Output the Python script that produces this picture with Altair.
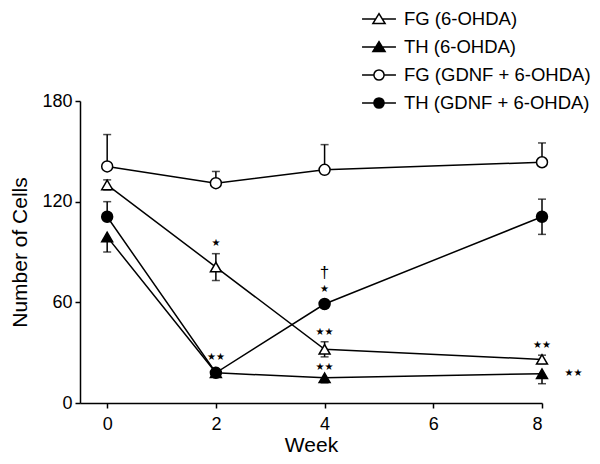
import altair as alt
import pandas as pd

weeks = [0, 2, 4, 8]
series_names = ["FG (6-OHDA)", "TH (6-OHDA)", "FG (GDNF + 6-OHDA)", "TH (GDNF + 6-OHDA)"]

fg_6ohda = [130, 81, 32, 26]
fg_6ohda_up = [3, 8, 4.5, 2.5]
fg_6ohda_dn = [3, 8, 4.5, 2.5]

th_6ohda = [99, 18, 15, 17.5]
th_6ohda_up = [0, 0, 0, 0]
th_6ohda_dn = [9, 0, 3, 6]

fg_gdnf = [141, 131, 139, 143.5]
fg_gdnf_up = [19, 7, 15, 11.5]
fg_gdnf_dn = [0, 0, 0, 0]

th_gdnf = [111, 18, 59, 111]
th_gdnf_up = [9, 0, 0, 10.5]
th_gdnf_dn = [0, 0, 0, 10.5]

ann_week = [2, 2, 4, 4, 4, 4, 8, 8.58]
ann_value = [95.5, 27.6, 77.3, 67.8, 42.1, 21.3, 34.6, 18]
ann_text = ["★", "★★", "†", "★", "★★", "★★", "★★", "★★"]

means = [fg_6ohda, th_6ohda, fg_gdnf, th_gdnf]
ups = [fg_6ohda_up, th_6ohda_up, fg_gdnf_up, th_gdnf_up]
dns = [fg_6ohda_dn, th_6ohda_dn, fg_gdnf_dn, th_gdnf_dn]

rows = []
for s, m, u, d in zip(series_names, means, ups, dns):
    for w, mv, uv, dv in zip(weeks, m, u, d):
        rows.append({"series": s, "week": w, "value": mv, "up": uv, "dn": dv,
                     "hi": mv + uv, "lo": mv - dv})
df = pd.DataFrame(rows)
ann = pd.DataFrame({"week": ann_week, "value": ann_value, "text": ann_text})

FONT = "Liberation Sans"
xs = alt.Scale(domain=[-0.5, 8], nice=False, zero=False)
ys = alt.Scale(domain=[0, 180], nice=False)
x_enc = alt.X("week:Q", scale=xs, title="Week",
              axis=alt.Axis(values=[0, 2, 4, 6, 8], format="d", labelPadding=7, titlePadding=1))
y_enc = alt.Y("value:Q", scale=ys, title="Number of Cells",
              axis=alt.Axis(values=[0, 60, 120, 180], labelPadding=3, titlePadding=11))

base = alt.Chart(df)

rule_up = base.transform_filter("datum.up > 0").mark_rule(color="black", strokeWidth=1.5).encode(
    x=x_enc, y=y_enc, y2="hi:Q")
rule_dn = base.transform_filter("datum.dn > 0").mark_rule(color="black", strokeWidth=1.5).encode(
    x=x_enc, y=y_enc, y2="lo:Q")
cap_up = base.transform_filter("datum.up > 0").mark_tick(
    orient="horizontal", size=8, thickness=1.5, color="black").encode(x=x_enc, y=alt.Y("hi:Q", scale=ys))
cap_dn = base.transform_filter("datum.dn > 0").mark_tick(
    orient="horizontal", size=8, thickness=1.5, color="black").encode(x=x_enc, y=alt.Y("lo:Q", scale=ys))

lines = base.mark_line(color="black", strokeWidth=1.5).encode(
    x=x_enc, y=y_enc, detail="series:N", order="week:Q")

fill_range = ["white", "black", "white", "black"]
points = base.mark_point(filled=True, size=120, stroke="black", strokeWidth=1.5, opacity=1).encode(
    x=x_enc, y=y_enc,
    shape=alt.Shape("series:N", scale=alt.Scale(domain=series_names,
                    range=["triangle-up", "triangle-up", "circle", "circle"]), legend=None),
    fill=alt.Fill("series:N", scale=alt.Scale(domain=series_names, range=fill_range), legend=None),
)

tri = "M0,-0.32L0.36,0.27L-0.36,0.27Z"
circ = "M-0.3,0A0.3,0.3 0 1,1 0.3,0A0.3,0.3 0 1,1 -0.3,0Z"
legend_paths = [
    "M-1,0H-0.2M0.2,0H1" + tri,
    "M-1,0H1" + tri,
    "M-1,0H-0.3M0.3,0H1" + circ,
    "M-1,0H1" + circ,
]
leg = alt.Legend(title=None, orient="none", legendX=281, legendY=-100, direction="vertical",
                 labelFont=FONT, labelFontSize=18.5, labelColor="black", labelLimit=400,
                 symbolSize=1150, symbolStrokeColor="black", symbolStrokeWidth=1.5,
                 symbolOpacity=1, labelOffset=7, rowPadding=0, padding=0)
legend_layer = base.mark_point(filled=True, opacity=0).encode(
    x=x_enc, y=y_enc,
    shape=alt.Shape("series:N", scale=alt.Scale(domain=series_names, range=legend_paths), legend=leg),
    fill=alt.Fill("series:N", scale=alt.Scale(domain=series_names, range=fill_range), legend=leg),
    stroke=alt.Stroke("series:N", scale=alt.Scale(domain=series_names, range=["black"] * 4), legend=leg),
)

text_star = alt.Chart(ann).transform_filter("datum.text != '†'").mark_text(
    font="DejaVu Sans", fontSize=10, color="black", baseline="middle", align="center").encode(
    x=alt.X("week:Q", scale=xs), y=alt.Y("value:Q", scale=ys), text="text:N")
text_dag = alt.Chart(ann).transform_filter("datum.text == '†'").mark_text(
    font=FONT, fontSize=17, color="black", baseline="middle", align="center").encode(
    x=alt.X("week:Q", scale=xs), y=alt.Y("value:Q", scale=ys), text="text:N")

chart = alt.layer(rule_up, rule_dn, cap_up, cap_dn, lines, points, legend_layer, text_star, text_dag).resolve_scale(
    shape="independent", fill="independent", stroke="independent"
).properties(
    width=462, height=302,
    background="white",
    autosize=alt.AutoSizeParams(type="none"),
    padding={"left": 72, "top": 93, "right": 50, "bottom": 52},
).configure_view(stroke=None).configure_axis(
    grid=False, domainColor="black", domainWidth=1.5, tickColor="black", tickWidth=1.5, tickSize=5,
    labelFont=FONT, labelFontSize=18, labelColor="black",
    titleFont=FONT, titleFontSize=21, titleFontWeight="normal", titleColor="black",
)

chart.save("out.html", embed_options={"renderer": "svg", "actions": False})
